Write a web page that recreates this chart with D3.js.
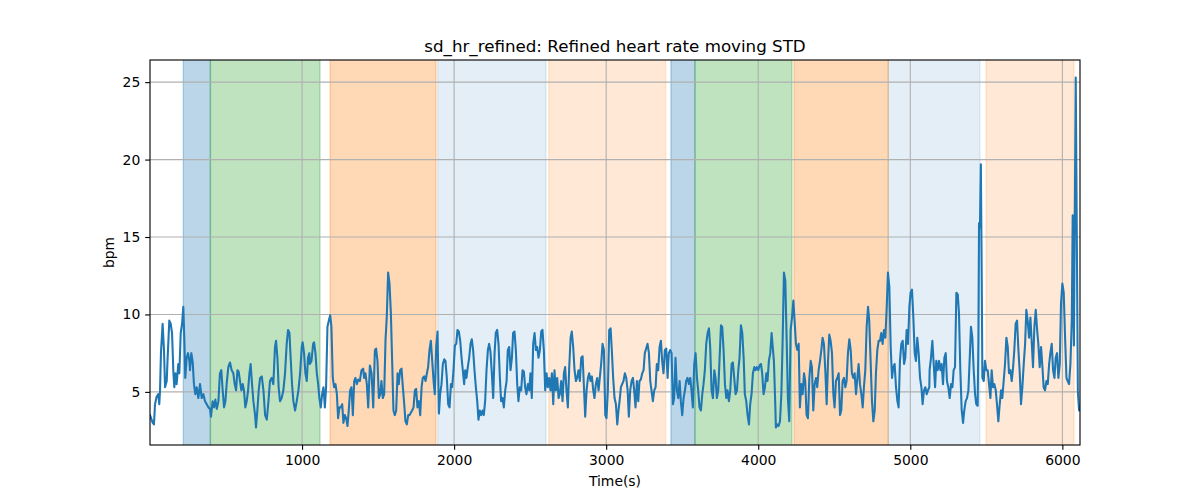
<!DOCTYPE html>
<html><head><meta charset="utf-8">
<script src="https://cdn.jsdelivr.net/npm/d3@7"></script>
<style>body{margin:0;background:#fff}svg{display:block;background:#fff}text{font-family:"DejaVu Sans",sans-serif}</style>
</head><body><svg id="c" width="1200" height="500"></svg>
<script>
// ---- data ----
const timeSec = [
0,18,26,33,44,55,61,66,72,83,
92,99,110,116,127,136,145,154,160,167,
175,186,193,202,211,219,226,232,241,250,
259,263,272,281,289,298,307,318,329,340,
351,362,373,384,395,401,412,421,430,439,
450,460,469,478,487,496,504,515,526,537,
548,557,566,575,583,592,601,610,618,627,
636,645,654,662,671,680,691,697,706,715,
724,735,746,757,768,779,789,800,811,822,
829,838,846,855,866,877,888,899,908,917,
925,934,943,954,965,976,987,998,1004,1013,
1022,1031,1039,1048,
1051,1062,1073,1079,1088,1097,1106,1114,1123,1132,
1141,1150,1158,1167,1176,1185,1193,1202,1211,1220,
1229,1237,1246,1255,1264,1272,1281,1290,1299,1307,
1316,1325,1334,1343,1351,1360,1369,1380,1391,1402,
1408,1417,1426,1435,1446,1457,1468,1479,1487,1496,
1505,1514,1522,1531,1540,1549,1557,1566,1575,1584,
1593,1601,1610,1619,1628,1636,1645,1654,1663,1672,
1680,1689,1698,1707,1715,1724,1733,1742,1750,1759,
1768,1777,1786,1794,1803,1812,1821,1829,1838,1847,
1856,1865,1873,1882,1891,1900,1908,1917,1926,1935,
1943,1952,1961,1970,1979,1987,1996,2005,2014,2022,
2031,2040,2049,2057,2066,
2073,2081,2090,2099,2108,2116,2125,2134,2143,2152,
2160,2169,2178,2187,2195,2204,2213,2222,2230,2239,
2248,2257,2266,2274,2283,2292,2301,2309,2318,2327,
2336,2345,2353,2362,2371,2380,2388,2397,2406,2415,
2423,2432,2441,2450,2459,2467,2476,2485,2494,2502,
2511,2520,2529,2538,2546,2555,2564,2573,2581,2590,
2599,2608,2616,2625,2634,2643,2652,2660,2669,2678,
2687,2695,2704,2713,2722,2730,2739,2748,2757,2766,
2774,2783,2792,2801,2809,2818,2827,2836,2845,2853,
2862,2871,2880,2888,2897,2906,2915,2923,2932,2941,
2950,2958,2967,2976,2985,2994,3002,3011,3020,3029,
3037,3046,3055,3064,3073,3081,
3088,3097,3105,3114,3123,3132,3141,3149,3158,3167,
3176,3184,3193,3202,3211,3219,3228,3237,3246,3254,
3263,3272,3281,3290,3298,3307,3316,3325,3333,3342,
3351,3360,3368,3377,3386,3395,3404,3412,3421,3430,
3439,3447,3456,3465,3474,3483,3491,3500,3509,3518,
3526,3535,3544,3553,3561,3570,3579,3588,3597,3605,
3614,3623,3632,3640,3649,3658,3667,3676,3684,3693,
3702,3711,3719,3728,3737,3746,3755,3763,3772,3781,
3790,3798,3807,3816,3825,3833,3842,3851,3860,3869,
3877,3886,3895,3904,3912,3921,3930,3939,3947,3956,
3965,3974,3982,3991,4000,4009,4018,4026,4035,4044,
4053,4061,4070,4079,4088,4097,
4103,4112,4116,4125,4134,4143,4152,4160,4169,4178,
4187,4195,4204,4213,4222,4231,4239,4248,4257,4266,
4274,4283,4292,4301,4309,4318,4327,4336,4345,4353,
4362,4371,4380,4388,4397,4406,4415,4423,4432,4441,
4450,4459,4467,4476,4485,4494,4502,4511,4520,4529,
4538,4546,4555,4564,4573,4581,4590,4599,4608,4616,
4625,4634,4643,4652,4660,4669,4678,4687,4695,4704,
4713,4722,4730,4739,4748,4757,4766,4774,4783,4792,
4801,4809,4818,4827,4836,4845,4853,4862,4871,4880,
4888,4897,4906,4915,4923,4932,4941,4950,4959,4967,
4976,4985,4994,5002,5011,5020,5029,5037,5046,5055,
5064,5073,5081,5090,5099,5108,5116,5125,
5127,5136,5145,5154,5163,5171,5180,5189,5198,5206,
5215,5224,5233,5241,5250,5259,5268,5277,5285,5294,
5303,5312,5320,5329,5338,5347,5355,5364,5373,5382,
5391,5399,5408,5417,5426,5434,5443,
5448,5452,5458,5464,5470,
5474,5483,5491,5500,5509,5518,5527,5535,5544,5553,
5562,5570,5579,5588,5597,5605,5614,5623,5632,5641,
5649,5658,5667,5676,5684,5693,5702,5711,5720,5728,
5737,5746,5755,5763,5772,5781,5790,5798,5807,5816,
5825,5834,5842,5851,5860,5869,5877,5886,5895,5904,
5913,5921,5930,5939,5948,5956,5965,5974,5983,5991,
6000,6009,6018,6027,6035,6044,6053,6062,
6068,6076,6088,6102,6110,6116
];
const sdHr = [
3.5,3.0,2.9,4.2,4.7,4.85,4.2,5.1,7.5,9.4,
7.7,5.3,5.7,7.2,9.6,9.4,8.8,6.2,5.3,6.2,
5.5,6.8,6.2,8.8,9.4,10.5,8.3,5.9,7.2,7.5,
7.0,6.4,7.5,6.9,5.5,4.85,5.3,4.6,5.5,4.6,
4.85,4.4,4.2,4.0,3.9,3.4,4.4,4.0,4.5,3.9,
4.4,6.2,6.4,5.1,4.0,4.4,5.5,6.6,6.9,6.4,
6.2,5.5,5.1,6.4,6.3,5.7,5.1,5.5,5.1,4.0,
4.4,5.1,6.2,6.8,5.5,4.4,3.5,2.7,3.8,5.1,
5.9,6.0,5.1,3.5,3.2,4.4,5.7,5.9,5.5,7.9,
8.3,7.2,5.3,4.4,4.6,5.1,6.2,8.1,9.0,8.8,
7.2,5.5,4.4,3.8,4.4,5.1,6.2,7.9,8.2,7.5,
6.2,5.7,7.2,7.5,
6.8,7.0,8.1,8.2,7.5,6.2,5.5,4.6,4.0,4.85,
5.3,4.0,5.3,9.2,9.6,9.95,9.2,5.9,5.3,5.5,
4.85,3.3,4.0,4.0,4.2,3.0,3.5,3.3,2.8,3.8,
5.1,5.3,3.5,5.7,5.9,5.5,5.8,5.7,6.4,6.5,
5.9,6.2,5.5,4.0,6.7,6.2,4.0,7.7,7.8,7.0,
4.6,4.85,5.7,4.6,4.85,8.4,9.8,12.7,12.0,10.1,
6.8,3.8,3.5,3.8,6.2,5.5,6.4,6.5,5.3,4.2,
3.1,2.9,3.5,3.5,3.65,3.8,4.0,5.1,5.2,4.0,
4.4,3.5,5.3,5.9,6.0,5.7,6.2,6.6,7.7,8.3,
7.0,5.7,4.85,7.9,8.9,3.6,4.85,5.5,6.8,7.1,
7.0,5.9,4.2,4.0,5.5,5.3,6.4,8.0,8.1,9.0,
8.9,8.3,7.2,6.4,5.5,
6.4,5.9,6.6,7.2,8.1,8.4,7.7,6.4,5.3,4.4,
3.2,3.8,3.5,3.8,3.5,4.4,6.4,7.7,8.1,7.6,
6.2,4.6,7.5,8.8,9.0,8.1,5.9,4.4,4.6,4.0,
5.1,5.7,7.7,7.9,6.4,7.2,8.8,8.9,7.7,5.5,
4.4,5.3,5.1,6.4,6.3,5.3,4.85,5.5,5.1,6.2,
4.6,8.1,8.8,7.7,7.9,7.2,7.7,8.9,9.0,7.7,
5.1,6.2,5.3,5.9,5.1,6.2,4.2,6.4,5.1,5.9,
4.6,4.85,5.7,4.4,6.2,6.6,5.1,4.0,6.6,8.5,
8.9,7.9,6.4,5.7,5.9,6.4,5.7,7.2,7.3,5.5,
3.4,5.1,5.9,6.2,5.7,6.0,5.1,4.6,5.5,5.9,
5.1,5.9,6.8,8.1,7.7,3.5,3.3,5.1,9.0,9.1,
7.7,5.9,4.6,4.2,2.9,3.8,
4.4,5.3,5.5,5.7,6.2,5.9,5.1,3.4,5.1,5.7,
5.9,5.1,4.0,5.7,4.4,5.7,5.8,6.2,6.4,7.5,
7.8,8.1,7.5,5.7,5.1,4.4,5.1,5.3,6.8,6.4,
7.9,8.3,7.0,6.2,7.7,7.8,5.9,7.5,7.7,7.5,
4.2,4.6,7.2,5.1,4.6,5.7,4.4,3.5,4.6,5.1,
5.7,5.9,5.5,5.9,5.1,4.0,6.8,7.5,5.9,5.1,
4.0,3.8,4.85,5.5,6.4,8.1,8.8,9.1,7.9,5.1,
4.6,6.4,5.9,4.6,5.1,7.2,9.3,9.2,7.7,5.5,
4.6,5.1,4.4,5.1,6.8,6.9,5.9,4.85,5.1,6.4,
7.2,9.3,8.8,7.2,4.85,4.4,3.5,2.9,4.2,4.85,
6.2,6.6,6.4,6.6,6.4,6.7,6.8,6.2,4.85,5.3,
6.2,5.7,7.0,7.5,8.8,7.7,
7.0,4.2,2.7,2.9,2.8,3.1,4.85,8.1,12.7,12.2,
8.3,4.6,3.1,9.0,9.8,10.9,9.6,8.1,7.7,8.1,
4.0,5.5,4.85,6.2,5.7,3.5,3.3,5.9,7.0,6.6,
3.8,5.5,5.9,5.3,6.4,7.0,7.7,8.5,8.1,6.4,
4.2,7.0,8.7,8.3,7.5,4.85,4.0,5.7,5.9,6.2,
3.5,3.8,5.7,5.9,5.3,5.7,7.5,8.4,7.7,6.2,
5.9,6.2,4.85,5.9,6.8,5.5,4.85,4.0,5.3,6.4,
9.2,10.5,9.6,7.0,4.4,3.1,3.8,6.2,7.7,8.3,
8.3,8.8,8.1,9.0,8.5,10.5,12.7,11.8,7.9,5.9,
6.6,6.8,5.3,4.4,4.0,7.0,8.1,8.3,6.8,7.2,
9.0,8.1,10.5,11.4,11.6,9.8,7.5,7.0,8.5,7.5,
5.9,5.3,4.2,5.1,5.3,4.85,5.1,5.3,
6.4,7.2,8.3,6.8,5.3,7.0,6.4,7.0,6.4,6.8,
5.5,7.2,7.5,5.7,5.3,4.6,5.5,5.3,6.4,6.6,
11.4,11.3,10.1,6.4,3.8,3.0,3.8,4.4,4.6,5.1,
7.2,9.2,8.5,6.4,4.85,4.2,4.1,
8.5,15.9,15.6,19.7,12.0,
5.9,5.7,7.0,6.4,6.4,5.5,4.6,6.4,5.3,5.5,
5.1,4.2,3.1,4.2,5.1,4.6,5.7,6.8,8.5,7.9,
6.2,6.4,5.7,6.6,7.7,9.4,9.6,7.7,6.2,4.2,
5.3,6.8,8.1,10.3,9.6,8.5,9.8,8.3,6.6,9.2,
10.3,9.0,8.1,6.6,7.9,6.6,5.3,5.1,5.7,5.5,
6.8,7.5,8.1,6.4,5.9,7.2,7.5,5.9,6.8,10.7,
12.0,11.4,8.5,5.9,5.7,5.5,6.8,9.6,
16.4,8.0,25.3,5.0,3.8,4.0
];
const spanStart = [219, 397, 1184, 1892, 2622, 3426, 3584, 4235, 4855, 5498];
const spanEnd   = [397, 1118, 1881, 2604, 3391, 3584, 4222, 4855, 5458, 6077];
const spanPhase = ['A','B','C','D','E','A','B','C','D','E'];
const xTicks = [1000, 2000, 3000, 4000, 5000, 6000];
const yTicks = [5, 10, 15, 20, 25];
const titleText = 'sd_hr_refined: Refined heart rate moving STD';
const xLabelText = 'Time(s)';
const yLabelText = 'bpm';

// ---- styles ----
const phaseStyle = {
  A: {c: '#1f77b4', a: 0.3},
  B: {c: '#2ca02c', a: 0.3},
  C: {c: '#ff7f0e', a: 0.3},
  D: {c: '#1f77b4', a: 0.12},
  E: {c: '#ff7f0e', a: 0.17}
};
const L = 150, R = 1080, T = 60, B = 445;
const tickLen = 4.86, tickPad = 4.86, fs = 13.9;

const svg = d3.select('#c');
const pts = timeSec.map((t, i) => ({t, v: sdHr[i]}));

const x = d3.scaleLinear().domain(d3.extent(timeSec)).range([L, R]);
const ye = d3.extent(sdHr), yp = (ye[1] - ye[0]) * 0.05;
const y = d3.scaleLinear().domain([ye[0] - yp, ye[1] + yp]).range([B, T]);

svg.append('defs').append('clipPath').attr('id', 'clip')
  .append('rect').attr('x', L).attr('y', T).attr('width', R - L).attr('height', B - T);

const plot = svg.append('g').attr('clip-path', 'url(#clip)');

// spans
plot.selectAll('rect.span').data(spanStart.map((s, i) => ({s, e: spanEnd[i], p: spanPhase[i]})))
  .join('rect').attr('class', 'span')
  .attr('x', d => x(d.s)).attr('width', d => x(d.e) - x(d.s))
  .attr('y', T - 2).attr('height', B - T + 4)
  .attr('fill', d => phaseStyle[d.p].c).attr('fill-opacity', d => phaseStyle[d.p].a)
  .attr('stroke', d => phaseStyle[d.p].c).attr('stroke-opacity', d => phaseStyle[d.p].a)
  .attr('stroke-width', 1.39);

// grid
plot.selectAll('line.gx').data(xTicks).join('line').attr('class', 'gx')
  .attr('x1', d => x(d)).attr('x2', d => x(d)).attr('y1', T).attr('y2', B)
  .attr('stroke', '#b0b0b0').attr('stroke-width', 1.11);
plot.selectAll('line.gy').data(yTicks).join('line').attr('class', 'gy')
  .attr('y1', d => y(d)).attr('y2', d => y(d)).attr('x1', L).attr('x2', R)
  .attr('stroke', '#b0b0b0').attr('stroke-width', 1.11);

// line
plot.append('path').datum(pts)
  .attr('d', d3.line().x(d => x(d.t)).y(d => y(d.v)))
  .attr('fill', 'none').attr('stroke', '#1f77b4').attr('stroke-width', 2.08)
  .attr('stroke-linejoin', 'round').attr('stroke-linecap', 'square');

// frame
svg.append('rect').attr('x', L).attr('y', T).attr('width', R - L).attr('height', B - T)
  .attr('fill', 'none').attr('stroke', '#000').attr('stroke-width', 1.11);

// axes
const gx = svg.append('g').attr('transform', `translate(0,${B})`)
  .call(d3.axisBottom(x).tickValues(xTicks).tickFormat(d3.format('d')).tickSize(tickLen).tickPadding(tickPad).tickSizeOuter(0));
const gy = svg.append('g').attr('transform', `translate(${L},0)`)
  .call(d3.axisLeft(y).tickValues(yTicks).tickFormat(d3.format('d')).tickSize(tickLen).tickPadding(tickPad).tickSizeOuter(0));
[gx, gy].forEach(g => {
  g.select('.domain').remove();
  g.attr('font-family', null).attr('font-size', null);
  g.selectAll('line').attr('stroke', '#000').attr('stroke-width', 1.11);
  g.selectAll('text').attr('fill', '#000').style('font-size', fs + 'px').style('font-family', '"DejaVu Sans", sans-serif');
});

// title & labels
svg.append('text').attr('x', (L + R) / 2).attr('y', 52).attr('text-anchor', 'middle')
  .style('font-size', '16.7px').attr('fill', '#000').text(titleText);
svg.append('text').attr('x', (L + R) / 2).attr('y', 486).attr('text-anchor', 'middle')
  .style('font-size', fs + 'px').attr('fill', '#000').text(xLabelText);
svg.append('text').attr('transform', `translate(114,${(T + B) / 2}) rotate(-90)`).attr('text-anchor', 'middle')
  .style('font-size', fs + 'px').attr('fill', '#000').text(yLabelText);
</script>
</body></html>
